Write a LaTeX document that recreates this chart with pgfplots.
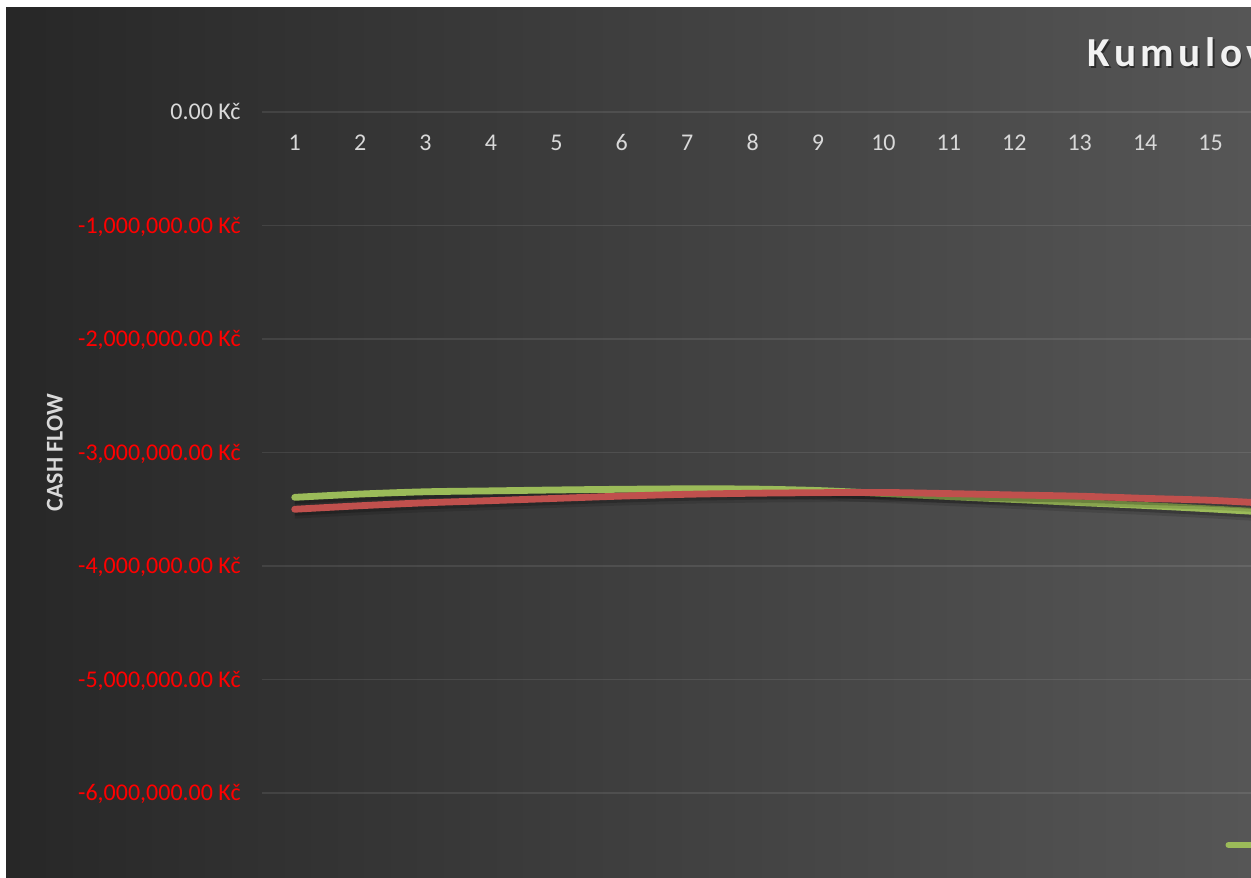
\documentclass[border=0pt]{standalone}
\usepackage{pgfplots}
\pgfplotsset{compat=1.18}
\usepackage{pgfplotstable}
\usepackage{fontspec}
\setmainfont{Carlito}
\newfontfamily\titlefont[LetterSpace=11]{Carlito}
\definecolor{bgL}{HTML}{272727}
\definecolor{bgR}{HTML}{565656}
\definecolor{lbl}{HTML}{D9D9D9}
\definecolor{grn}{HTML}{9BBB59}
\definecolor{rd}{HTML}{C0504D}
\definecolor{negred}{HTML}{FF0000}

\pgfplotstableread{
x y
1 -3395000
2 -3366000
3 -3346000
4 -3338000
5 -3330000
6 -3324000
7 -3320000
8 -3322000
9 -3335000
10 -3361000
11 -3388000
12 -3414000
13 -3441000
14 -3467000
15 -3497000
16 -3530000
}\greentab

\pgfplotstableread{
x y
1 -3500000
2 -3469000
3 -3443000
4 -3424000
5 -3404000
6 -3384000
7 -3368000
8 -3359000
9 -3354000
10 -3352000
11 -3362000
12 -3374000
13 -3385000
14 -3404000
15 -3421000
16 -3452000
}\redtab

\begin{document}
\begin{tikzpicture}
\useasboundingbox (0,0) rectangle (625.5bp,-439bp);
\fill[white] (0,0) rectangle (625.5bp,-439bp);
\shade[left color=bgL,right color=bgR] (3bp,-3.5bp) rectangle (625.5bp,-439bp);
\begin{scope}
\clip (3bp,-3.5bp) rectangle (625.5bp,-439bp);
\node[anchor=base west, inner sep=0pt, text=black, opacity=0.45,
      font=\titlefont\fontsize{20.6bp}{24bp}\selectfont\bfseries]
  at (544.4bp,-34.4bp) {Kumulované cash flow};
\begin{axis}[
  at={(131bp,-396.5bp)}, anchor=south west,
  scale only axis, width=523.35bp, height=340.5bp,
  xmin=0.5, xmax=16.5, ymin=-6000000, ymax=0,
  scaled y ticks=false,
  axis line style={draw=none},
  major tick length=0pt,
  tick style={draw=none},
  ymajorgrids=true,
  major grid style={white, opacity=0.09, line width=0.75bp},
  ytick={-6000000,-5000000,-4000000,-3000000,-2000000,-1000000,0},
  yticklabels={{\textcolor{negred}{-6,000,000.00 Kč}},{\textcolor{negred}{-5,000,000.00 Kč}},{\textcolor{negred}{-4,000,000.00 Kč}},{\textcolor{negred}{-3,000,000.00 Kč}},{\textcolor{negred}{-2,000,000.00 Kč}},{\textcolor{negred}{-1,000,000.00 Kč}},{\textcolor{lbl}{0.00 Kč}}},
  yticklabel style={font=\fontsize{12bp}{14bp}\selectfont, anchor=base east, inner sep=0pt, xshift=-10.5bp, yshift=-3.8bp},
  xtick={1,2,3,4,5,6,7,8,9,10,11,12,13,14,15,16},
  xticklabels={1,2,3,4,5,6,7,8,9,10,11,12,13,14,15,16},
  xticklabel pos=upper,
  xticklabel style={font=\fontsize{12bp}{14bp}\selectfont, text=lbl, anchor=base, inner sep=0pt, yshift=-19.4bp},
  ylabel={CASH FLOW},
  every axis y label/.style={at={(axis description cs:-0.1978,0.5)}, rotate=90, anchor=center, inner sep=0pt, font=\fontsize{12bp}{14bp}\selectfont\bfseries, text=lbl},
  title={Kumulované cash flow},
  every axis title/.style={at={(axis description cs:0.7882,1.0665)}, anchor=base west, inner sep=0pt, font=\titlefont\fontsize{20.6bp}{24bp}\selectfont\bfseries, text=white!95!black},
  legend columns=-1,
  legend style={at={(0.9205,-0.0764)}, anchor=west, draw=none, fill=none, inner sep=0pt, outer sep=0pt, nodes={inner sep=0pt, text=lbl}, font=\fontsize{12bp}{14bp}\selectfont, /tikz/every even column/.append style={column sep=4bp}, /tikz/every odd column/.append style={column sep=14bp}},
  legend image code/.code={\draw[#1, line width=3bp, line cap=round] (0bp,0bp) -- (16bp,0bp);},
]
\addplot[black, opacity=0.12, line width=5bp, smooth, forget plot, yshift=-2.2bp] table {\greentab};
\addplot[black, opacity=0.2, line width=3.5bp, smooth, forget plot, yshift=-1.5bp] table {\greentab};
\addplot[grn, line width=3.4bp, smooth, line cap=round] table {\greentab};
\addplot[black, opacity=0.12, line width=5bp, smooth, forget plot, yshift=-2.2bp] table {\redtab};
\addplot[black, opacity=0.2, line width=3.5bp, smooth, forget plot, yshift=-1.5bp] table {\redtab};
\addplot[rd, line width=3.4bp, smooth, line cap=round] table {\redtab};
\legend{Varianta A, Varianta B}
\end{axis}
\end{scope}
\end{tikzpicture}
\end{document}
